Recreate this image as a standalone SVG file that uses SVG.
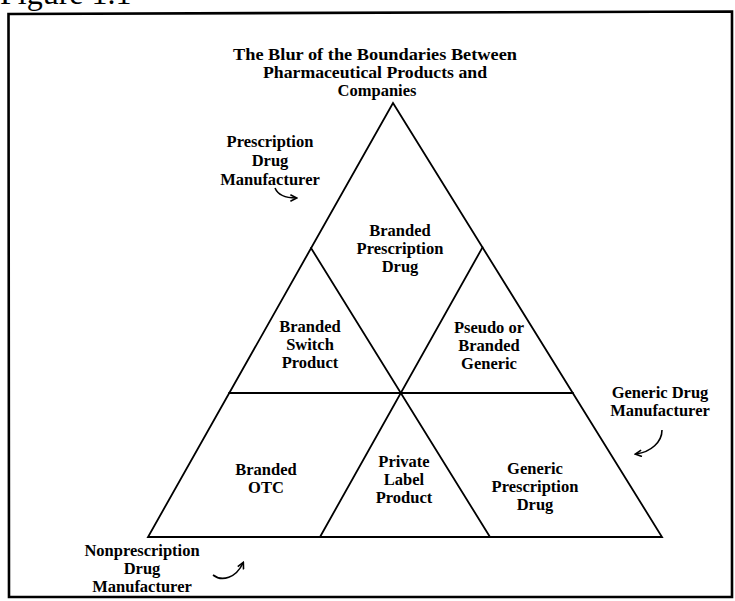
<svg xmlns="http://www.w3.org/2000/svg" width="735" height="601" viewBox="0 0 735 601">
<style>
.t{font-family:"Liberation Serif","Times New Roman",serif;font-weight:bold;fill:#000;text-anchor:middle}
.lbl{font-size:16.5px}
.ttl{font-size:16.5px}
.ln{stroke:#000;stroke-width:1.8;fill:none;stroke-linecap:round}
.arr{stroke:#000;stroke-width:1.6;fill:none;marker-end:url(#ah)}
</style>
<defs>
<marker id="ah" viewBox="0 0 10 10" refX="8" refY="5" markerWidth="5" markerHeight="5" orient="auto">
<path d="M1,1 L9,5 L1,9" fill="none" stroke="#000" stroke-width="2"/>
</marker>
</defs>
<rect width="735" height="601" fill="#fff"/>
<text x="0" y="4" font-family="Liberation Serif, serif" font-size="32" fill="#000">Figure 1.1</text>
<polygon id="frame" points="8.5,14 732,11.5 732,597 9,597" fill="none" stroke="#000" stroke-width="2.6"/>

<g id="title" class="t ttl">
<text x="375" y="60" textLength="284" lengthAdjust="spacingAndGlyphs">The Blur of the Boundaries Between</text>
<text x="375" y="78" textLength="224" lengthAdjust="spacingAndGlyphs">Pharmaceutical Products and</text>
<text x="377" y="96">Companies</text>
</g>

<g id="triangle">
<polygon class="ln" points="393,103 662,537 148,537"/>
<line class="ln" x1="229" y1="393" x2="573" y2="393"/>
<line class="ln" x1="311" y1="248" x2="490" y2="537"/>
<line class="ln" x1="482.5" y1="247.4" x2="320" y2="537"/>
</g>

<g id="branded-prescription-drug" class="t lbl">
<text x="400" y="236">Branded</text>
<text x="400" y="254">Prescription</text>
<text x="400" y="272">Drug</text>
</g>
<g id="branded-switch-product" class="t lbl">
<text x="310" y="332">Branded</text>
<text x="310" y="350">Switch</text>
<text x="310" y="368">Product</text>
</g>
<g id="pseudo-branded-generic" class="t lbl">
<text x="489" y="333">Pseudo or</text>
<text x="489" y="351">Branded</text>
<text x="489" y="369">Generic</text>
</g>
<g id="branded-otc" class="t lbl">
<text x="266" y="475">Branded</text>
<text x="266" y="493">OTC</text>
</g>
<g id="private-label-product" class="t lbl">
<text x="404" y="467">Private</text>
<text x="404" y="485">Label</text>
<text x="404" y="503">Product</text>
</g>
<g id="generic-prescription-drug" class="t lbl">
<text x="535" y="474">Generic</text>
<text x="535" y="492">Prescription</text>
<text x="535" y="510">Drug</text>
</g>

<g id="prescription-drug-manufacturer" class="t lbl">
<text x="270" y="147">Prescription</text>
<text x="270" y="166">Drug</text>
<text x="270" y="185">Manufacturer</text>
</g>
<g id="generic-drug-manufacturer" class="t lbl">
<text x="660" y="398">Generic Drug</text>
<text x="660" y="416">Manufacturer</text>
</g>
<g id="nonprescription-drug-manufacturer" class="t lbl">
<text x="142" y="556">Nonprescription</text>
<text x="142" y="574">Drug</text>
<text x="142" y="592">Manufacturer</text>
</g>

<g id="connectors">
<path class="arr" d="M275,188 C278,195 286,198 296,198"/>
<path class="arr" d="M662,430 C662,442 651,452 636,454"/>
<path class="arr" d="M213,575 C222,582 236,578 243,563"/>
</g>
</svg>
